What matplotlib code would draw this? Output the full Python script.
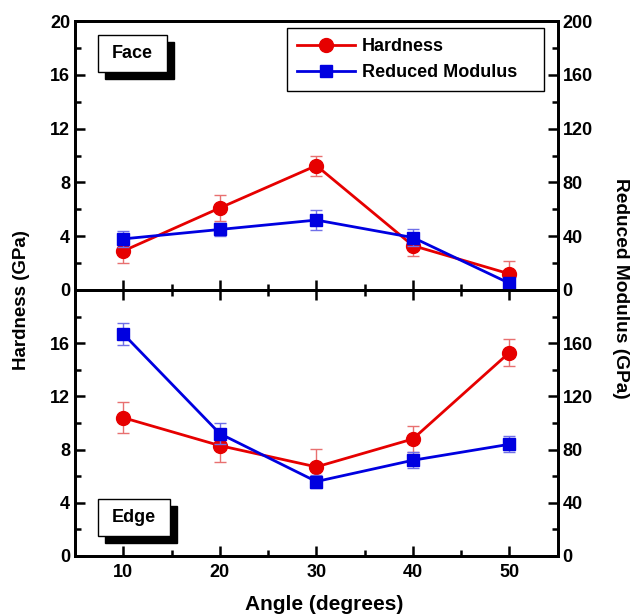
import numpy as np
import matplotlib
matplotlib.use("Agg")
import matplotlib.pyplot as plt
from matplotlib.patches import Rectangle
from matplotlib.lines import Line2D

plt.rcParams["font.family"] = ["Liberation Sans", "DejaVu Sans"]
plt.rcParams["font.weight"] = "bold"

# ── Data ─────────────────────────────────────────────────────────────
angles = [10, 20, 30, 40, 50]

face_hard     = [2.9, 6.1, 9.25, 3.3, 1.2]
face_hard_err = [0.9, 1.0, 0.75, 0.8, 0.95]
face_mod      = [38, 45, 52, 39, 5]
face_mod_err  = [6, 5, 7.5, 6, 3]

edge_hard     = [10.4, 8.3, 6.7, 8.8, 15.3]
edge_hard_err = [1.15, 1.2, 1.35, 1.0, 1.05]
edge_mod      = [167, 92, 56, 72, 84]
edge_mod_err  = [8, 8, 5, 6, 6]

RED  = "#e60000"
BLUE = "#0000e0"
RED_ERR  = "#e87070"
BLUE_ERR = "#7070e8"

TICK_FS = 13

fig = plt.figure(figsize=(6.35, 6.15), dpi=100)
L, R = 75 / 635, 557.7 / 635
ax_top = fig.add_axes([L, 1 - 290 / 615, R - L, 269 / 615])
ax_bot = fig.add_axes([L, 1 - 556 / 615, R - L, 266 / 615], sharex=ax_top)
ax_top2 = ax_top.twinx()
ax_bot2 = ax_bot.twinx()


def draw(ax, ax2, hard, hard_err, mod, mod_err):
    ax.errorbar(angles, hard, yerr=hard_err, color=RED, ecolor=RED_ERR,
                elinewidth=1, capsize=4, capthick=1, lw=2,
                marker="o", ms=10, zorder=3)
    ax2.errorbar(angles, mod, yerr=mod_err, color=BLUE, ecolor=BLUE_ERR,
                 elinewidth=1, capsize=4, capthick=1, lw=2,
                 marker="s", ms=9, zorder=3)


draw(ax_top, ax_top2, face_hard, face_hard_err, face_mod, face_mod_err)
draw(ax_bot, ax_bot2, edge_hard, edge_hard_err, edge_mod, edge_mod_err)

for ax in (ax_top, ax_bot, ax_top2, ax_bot2):
    for s in ax.spines.values():
        s.set_linewidth(2)
    ax.tick_params(which="both", direction="in", width=1.8, labelsize=TICK_FS)
    ax.tick_params(which="major", length=7)
    ax.tick_params(which="minor", length=4)

ax_top.set_xlim(5, 55)
ax_top.set_xticks([10, 20, 30, 40, 50])
ax_top.set_xticks([15, 25, 35, 45], minor=True)

ax_top.set_ylim(0, 20)
ax_top.set_yticks([0, 4, 8, 12, 16, 20])
ax_top.set_yticks([2, 6, 10, 14, 18], minor=True)
ax_top2.set_ylim(0, 200)
ax_top2.set_yticks([0, 40, 80, 120, 160, 200])
ax_top2.set_yticks([20, 60, 100, 140, 180], minor=True)

ax_bot.set_ylim(0, 20)
ax_bot.set_yticks([0, 4, 8, 12, 16])
ax_bot.set_yticks([2, 6, 10, 14, 18], minor=True)
ax_bot2.set_ylim(0, 200)
ax_bot2.set_yticks([0, 40, 80, 120, 160])
ax_bot2.set_yticks([20, 60, 100, 140, 180], minor=True)

ax_top.tick_params(axis="x", which="both", labelbottom=False, top=False)
ax_bot.tick_params(axis="x", which="both", top=True, labeltop=False)
ax_bot.tick_params(axis="x", pad=6)
ax_top.tick_params(axis="y", which="both", right=False)
ax_bot.tick_params(axis="y", which="both", right=False)
ax_top2.tick_params(axis="y", which="both", left=False)
ax_bot2.tick_params(axis="y", which="both", left=False)
for ax in (ax_top, ax_bot, ax_top2, ax_bot2):
    for lab in ax.get_xticklabels() + ax.get_yticklabels():
        lab.set_fontweight("bold")


def shadow_box(ax, x, y, w, h, text):
    dx, dy = 7 / 482.7, 7 / 268
    ax.add_patch(Rectangle((x + dx, y - dy), w, h, transform=ax.transAxes,
                           facecolor="black", edgecolor="black", zorder=5))
    ax.add_patch(Rectangle((x, y), w, h, transform=ax.transAxes,
                           facecolor="white", edgecolor="black", lw=1, zorder=6))
    ax.text(x + w / 2, y + h / 2, text, transform=ax.transAxes,
            ha="center", va="center", fontsize=13, fontweight="bold", zorder=7)


shadow_box(ax_top2, 0.0476, 0.81, 0.143, 0.1375, "Face")
shadow_box(ax_bot2, 0.0476, 0.075, 0.149, 0.139, "Edge")

handles = [
    Line2D([], [], color=RED, lw=2, marker="o", ms=10),
    Line2D([], [], color=BLUE, lw=2, marker="s", ms=9),
]
leg = ax_top2.legend(handles, ["Hardness", "Reduced Modulus"],
                     loc="upper left", mode="expand",
                     bbox_to_anchor=(0.439, 0.729, 0.532, 0.245),
                     borderaxespad=0, fancybox=False, edgecolor="black",
                     framealpha=1, handlelength=3.2, handletextpad=0.4,
                     prop={"weight": "bold", "size": 13},
                     borderpad=0.55, labelspacing=0.5)
leg.get_frame().set_linewidth(1)

fig.text(22 / 635, 1 - 300 / 615, "Hardness (GPa)", rotation=90,
         ha="center", va="center", fontsize=13.5, fontweight="bold")
fig.text(621 / 635, 1 - 288 / 615, "Reduced Modulus (GPa)", rotation=270,
         ha="center", va="center", fontsize=13.8, fontweight="bold")
fig.text(324 / 635, 1 - 605 / 615, "Angle (degrees)",
         ha="center", va="center", fontsize=15, fontweight="bold")

fig.savefig("out.png", dpi=100)
